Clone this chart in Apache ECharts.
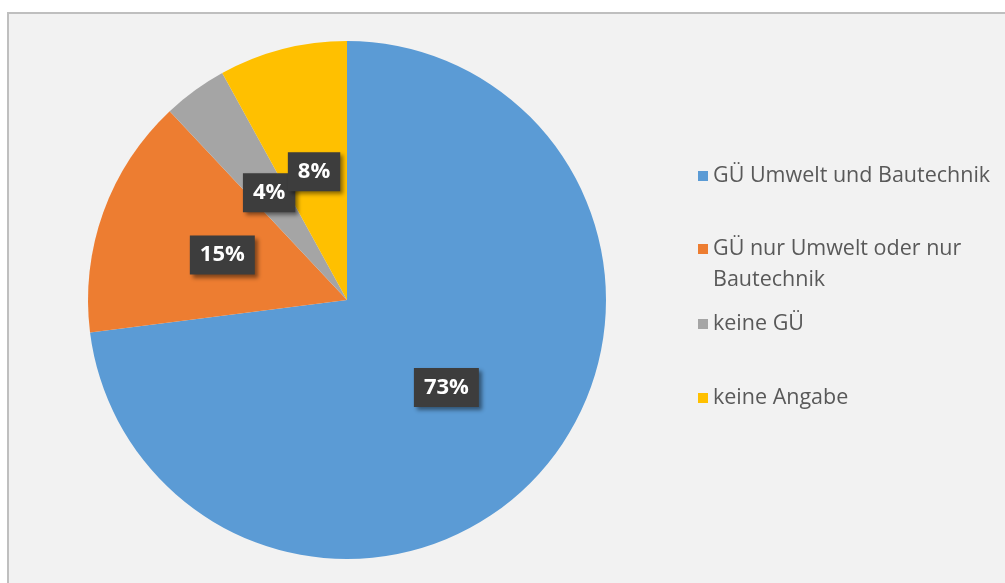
<!DOCTYPE html>
<html>
<head>
<meta charset="utf-8">
<script src="https://cdn.jsdelivr.net/npm/echarts@6/dist/echarts.min.js"></script>
<style>
  html, body { margin: 0; padding: 0; background: #ffffff; width: 1005px; height: 583px; overflow: hidden; }
  #frame { position: absolute; left: 7px; top: 12px; width: 1100px; height: 700px; background: #f2f2f2; border: 2px solid #bfbfbf; }
  #chart { position: absolute; left: 0; top: 0; width: 1005px; height: 583px; }
</style>
</head>
<body>
<div id="frame"></div>
<div id="chart"></div>
<script>
const categories = ['GÜ Umwelt und Bautechnik', 'GÜ nur Umwelt oder nur Bautechnik', 'keine GÜ', 'keine Angabe'];
const legendLabels = ['GÜ Umwelt und Bautechnik', 'GÜ nur Umwelt oder nur\nBautechnik', 'keine GÜ', 'keine Angabe'];
const shares = [73, 15, 4, 8];
const colors = ['#5b9bd5', '#ed7d31', '#a5a5a5', '#ffc000'];
const legendFirstLineY = [176, 249, 324, 398];

const chart = echarts.init(document.getElementById('chart'), null, { renderer: 'canvas' });
const LH = 31;
const legends = categories.map((name, i) => {
  const twoLine = legendLabels[i].indexOf('\n') >= 0;
  return {
    show: true,
    left: 698,
    top: legendFirstLineY[i] - LH / 2,
    padding: 0,
    itemWidth: 10,
    itemHeight: twoLine ? 10 + LH : 10,
    icon: twoLine ? 'path://M0,0H10V10H0Z M0,41L0,41' : 'rect',
    itemStyle: { borderWidth: 0 },
    formatter: () => legendLabels[i],
    textStyle: { fontFamily: 'Open Sans', fontSize: 21.5, color: '#595959', lineHeight: LH },
    data: [name],
    selectedMode: false
  };
});

chart.setOption({
  backgroundColor: 'transparent',
  animation: false,
  color: colors,
  legend: legends,
  series: [{
    type: 'pie',
    center: [347, 300],
    radius: 259,
    startAngle: 90,
    clockwise: true,
    avoidLabelOverlap: false,
    labelLayout: { hideOverlap: false },
    emphasis: { disabled: true },
    itemStyle: { borderWidth: 0 },
    label: {
      show: true,
      position: 'inside',
      formatter: '{c}%',
      color: '#ffffff',
      fontFamily: 'Open Sans',
      fontWeight: 'bold',
      fontSize: 22,
      backgroundColor: '#3d3d3d',
      padding: [9, 10, 8, 10],
      shadowColor: 'rgba(0,0,0,0.45)',
      shadowBlur: 4,
      shadowOffsetX: 3,
      shadowOffsetY: 3
    },
    labelLine: { show: false },
    data: categories.map((n, i) => ({ name: n, value: shares[i] }))
  }]
});
</script>
</body>
</html>
